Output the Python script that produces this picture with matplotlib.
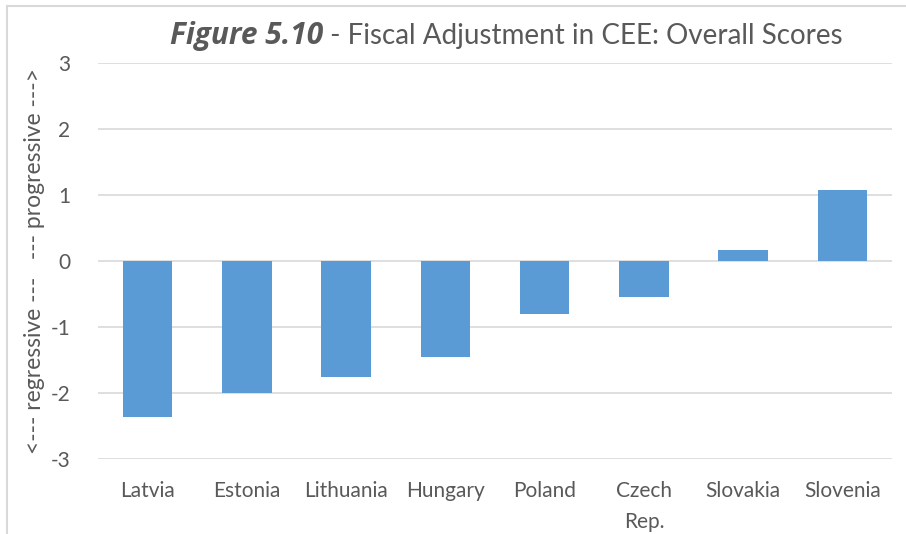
import matplotlib.pyplot as plt
from matplotlib.lines import Line2D

countries = ["Latvia", "Estonia", "Lithuania", "Hungary", "Poland", "Czech\nRep.", "Slovakia", "Slovenia"]
scores = [-2.36, -2.0, -1.75, -1.45, -0.80, -0.54, 0.16, 1.08]
yticks = [-3, -2, -1, 0, 1, 2, 3]

plt.rcParams['font.family'] = ['Lato', 'DejaVu Sans']
GREY = "#595959"

W, H = 906, 534
fig = plt.figure(figsize=(W / 100, H / 100), dpi=100)
ax = fig.add_axes([98 / W, 1 - 459 / H, (892 - 98) / W, (459 - 63) / H])

x = range(len(countries))
ax.bar(x, scores, width=0.5, color="#5B9BD5", zorder=3)

ax.set_xlim(-0.5, len(countries) - 0.5)
ax.set_ylim(-3, 3)
ax.set_yticks(yticks)
ax.set_yticklabels([str(t) for t in yticks])
ax.set_xticks(list(x))
ax.set_xticklabels(countries, linespacing=1.65)

ax.grid(axis="y", color="#d9d9d9", linewidth=1.2, zorder=0)
for s in ax.spines.values():
    s.set_visible(False)
ax.tick_params(axis="both", length=0, labelsize=15, colors=GREY)
ax.tick_params(axis="x", pad=16)
ax.tick_params(axis="y", pad=20)

ax.set_ylabel("<--- regressive ---   --- progressive --->", fontsize=16.5,
              color=GREY, labelpad=4)

# two-part title: bold italic figure number, then the caption
split_x = 323 / W
base_y = 1 - 44 / H
fig.text(split_x, base_y, "Figure 5.10", fontsize=21.5, fontweight="bold",
         fontstyle="italic", family=["Open Sans", "DejaVu Sans"], color=GREY,
         ha="right", va="baseline")
fig.text(split_x, base_y, " - Fiscal Adjustment in CEE: Overall Scores", fontsize=20,
         color=GREY, ha="left", va="baseline")

# chart area border (left and top edges)
fig.add_artist(Line2D([7 / W, 7 / W], [0, 1 - 6 / H], color="#d9d9d9", linewidth=1.5,
                      transform=fig.transFigure))
fig.add_artist(Line2D([7 / W, 1], [1 - 6 / H, 1 - 6 / H], color="#d9d9d9", linewidth=1.5,
                      transform=fig.transFigure))

fig.savefig("out.png", dpi=100)
